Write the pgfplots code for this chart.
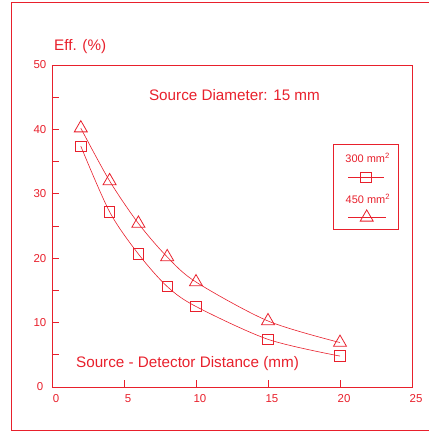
\documentclass[border=0pt]{standalone}
\usepackage{fontspec}
\setmainfont{Liberation Sans}
\usepackage{pgfplots}
\pgfplotsset{compat=1.18}
\definecolor{myred}{RGB}{232,32,44}
\newcommand\lfont{\fontsize{11}{13}\selectfont}
\newcommand\bfont{\fontsize{15.3}{18}\selectfont}
\pgfplotsset{
  leg300/.style={legend image code/.code={
    \path[draw=none] (-14.7bp,-11bp) rectangle (49.3bp,33bp);
    \draw[mark repeat=2,mark phase=2,##1] plot coordinates {(0bp,0bp) (17.8bp,0bp) (35.6bp,0bp)};
    \node[font=\lfont,text=myred,inner sep=0pt,anchor=base,draw=none] at (19.5bp,14.7bp) {300 mm\textsuperscript{2}};}},
  leg450/.style={legend image code/.code={
    \path[draw=none] (-14.7bp,-12bp) rectangle (49.3bp,29bp);
    \draw[mark repeat=2,mark phase=2,##1] plot coordinates {(0bp,0bp) (18.6bp,0bp) (37.2bp,0bp)};
    \node[font=\lfont,text=myred,inner sep=0pt,anchor=base,draw=none] at (19.8bp,13.7bp) {450 mm\textsuperscript{2}};}},
}
\begin{document}
\begin{tikzpicture}[x=1bp,y=1bp]
\useasboundingbox (0,0) rectangle (429,431);
\draw[myred, line width=1bp] (11,1) rectangle (445,428.5);
\begin{axis}[
    at={(52bp,44bp)}, anchor=south west,
    scale only axis, width=360bp, height=322bp,
    xmin=0, xmax=25, ymin=0, ymax=50,
    axis line style={myred, line width=0.7bp},
    xtick={0,5,...,25}, ytick={0,10,...,50}, minor ytick={5,15,...,45},
    tick align=inside, major tick length=7bp, minor tick length=7bp,
    tick style={myred, line width=0.7bp},
    xtick pos=bottom, ytick pos=left,
    /pgf/number format/assume math mode=true,
    ticklabel style={font=\fontsize{11.5}{13}\selectfont, text=myred},
    xticklabel style={anchor=center, yshift=-12bp, xshift=4bp},
    yticklabel style={anchor=center, xshift=-12bp},
    legend style={at={(rel axis cs:0.7806,0.7547)}, anchor=north west,
      draw=myred, line width=0.8bp, inner sep=0pt, row sep=0pt, column sep=0pt,
      nodes={inner sep=0pt, draw=none}},
    clip=false,
  ]
  \addplot[myred, line width=0.6bp, smooth, mark=square, mark size=5.2bp,
      mark options={line width=0.8bp}, leg300] coordinates {
    (2,37.4) (4,27.2) (6,20.65) (8,15.6) (10,12.5) (15,7.4) (20,4.8)
  };
  \addlegendentry{}
  \addplot[myred, line width=0.6bp, smooth, mark=triangle, mark size=7.5bp,
      mark options={line width=0.8bp}, leg450] coordinates {
    (2,40.2) (4,32.0) (6,25.4) (8,20.2) (10,16.3) (15,10.25) (20,6.9)
  };
  \addlegendentry{}
\end{axis}
\node[anchor=west, font=\bfont, text=myred, inner sep=0pt] at (54,384) {Eff. (\%)};
\node[font=\bfont, text=myred, inner sep=0pt] at (234.5,336) {Source Diameter: 15 mm};
\node[font=\bfont, text=myred, inner sep=0pt] at (187.5,67) {Source - Detector Distance (mm)};
\end{tikzpicture}
\end{document}
